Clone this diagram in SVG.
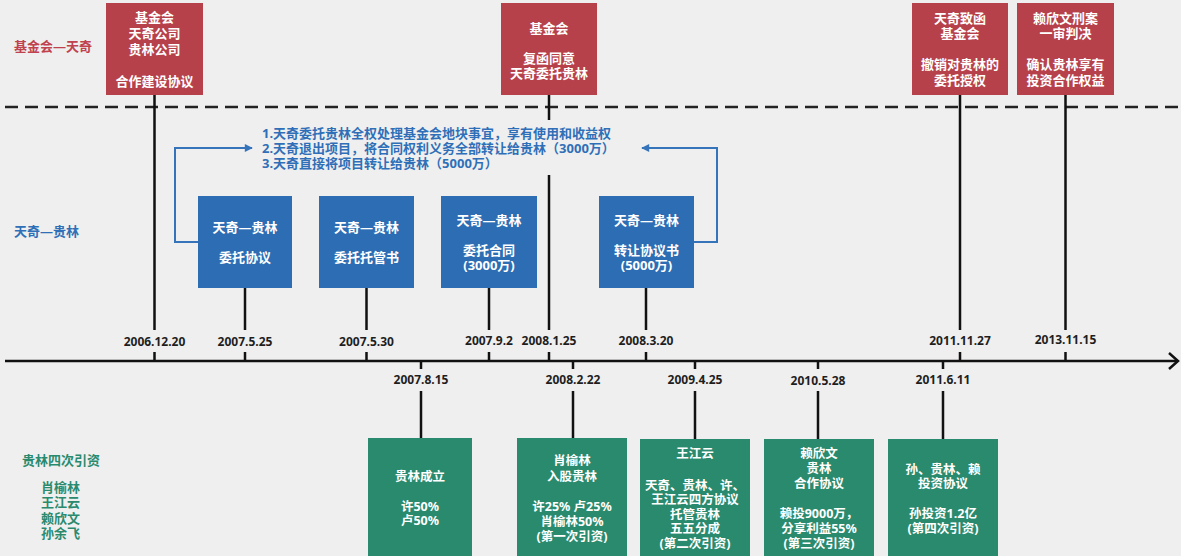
<svg xmlns="http://www.w3.org/2000/svg" width="1181" height="556" viewBox="0 0 1181 556">
<defs>
<style>
.t{font-family:"Noto Sans","Noto Sans CJK SC",sans-serif;font-weight:700;text-anchor:middle}
.w{fill:#ffffff;font-size:13px}
.g{fill:#ffffff;font-size:12.5px}
.d{fill:#1e1e1e;font-size:12px}
.red{fill:#b7414b}
.blue{fill:#2c6db3}
.green{fill:#2a8a6e}
.ln{stroke:#111;stroke-width:2.5;fill:none}
.bl{stroke:#3573ba;stroke-width:2;fill:none}
</style>
<marker id="ah" viewBox="0 0 10 10" refX="9" refY="5" markerWidth="9" markerHeight="8" markerUnits="userSpaceOnUse" orient="auto">
<path d="M0,0 L10,5 L0,10 Z" fill="#3573ba"/>
</marker>
</defs>
<rect x="0" y="0" width="1181" height="556" fill="#efefef"/>

<g id="lane-labels" class="t" style="text-anchor:start;font-size:13px">
<text x="14" y="50.5" fill="#c0424e">基金会—天奇</text>
<text x="14" y="235.5" fill="#2f6fb8">天奇—贵林</text>
<text x="22" y="464.5" fill="#2a8a6e">贵林四次引资</text>
<text x="41" y="491.5" fill="#2a8a6e">肖榆林</text>
<text x="41" y="507" fill="#2a8a6e">王江云</text>
<text x="41" y="522.5" fill="#2a8a6e">赖欣文</text>
<text x="41" y="538" fill="#2a8a6e">孙余飞</text>
</g>

<g id="connectors">
<line x1="5" y1="107" x2="1181" y2="107" stroke="#222" stroke-width="2.5" stroke-dasharray="13 7"/>
<line class="ln" x1="5" y1="361" x2="1178" y2="361"/>
<path class="ln" d="M1169,353 L1178,361 L1169,369"/>
<path class="ln" d="M154.5,95 V330 M154.5,352 V361"/>
<path class="ln" d="M245,288 V330 M245,352 V361"/>
<path class="ln" d="M366.5,288 V330 M366.5,352 V361"/>
<path class="ln" d="M489,288 V330 M489,352 V361"/>
<path class="ln" d="M549,95 V120 M549,175 V330 M549,352 V361"/>
<path class="ln" d="M646,288 V330 M646,352 V361"/>
<path class="ln" d="M960,95 V330 M960,352 V361"/>
<path class="ln" d="M1065.5,95 V330 M1065.5,352 V361"/>
<path class="ln" d="M421,361 V369 M421,391 V438"/>
<path class="ln" d="M573,361 V369 M573,391 V438"/>
<path class="ln" d="M695,361 V369 M695,391 V439"/>
<path class="ln" d="M818,361 V369 M818,391 V439"/>
<path class="ln" d="M943,361 V369 M943,391 V439"/>
<path class="bl" d="M198,242 H175 V148 H252" marker-end="url(#ah)"/>
<path class="bl" d="M694,242 H717 V148 H642" marker-end="url(#ah)"/>
</g>

<g id="dates" class="t d">
<text x="154.5" y="346">2006.12.20</text>
<text x="245" y="346">2007.5.25</text>
<text x="366.5" y="346">2007.5.30</text>
<text x="489" y="345">2007.9.2</text>
<text x="549" y="345">2008.1.25</text>
<text x="646" y="345">2008.3.20</text>
<text x="960" y="345">2011.11.27</text>
<text x="1065.5" y="344">2013.11.15</text>
<text x="421" y="384">2007.8.15</text>
<text x="573" y="384">2008.2.22</text>
<text x="695" y="384">2009.4.25</text>
<text x="818" y="385">2010.5.28</text>
<text x="943" y="384">2011.6.11</text>
</g>

<g id="note" class="t" style="text-anchor:start;font-size:13px" fill="#2f6fb8">
<text x="262" y="137.5">1.天奇委托贵林全权处理基金会地块事宜，享有使用和收益权</text>
<text x="262" y="152.5">2.天奇退出项目，将合同权利义务全部转让给贵林（3000万）</text>
<text x="262" y="167.5">3.天奇直接将项目转让给贵林（5000万）</text>
</g>

<g id="r1">
<rect class="red" x="106" y="3" width="97" height="92"/>
<text class="t w" x="154.5" y="21.5">基金会</text>
<text class="t w" x="154.5" y="37.5">天奇公司</text>
<text class="t w" x="154.5" y="53.5">贵林公司</text>
<text class="t w" x="154.5" y="85.5">合作建设协议</text>
</g>
<g id="r2">
<rect class="red" x="501" y="3" width="96" height="92"/>
<text class="t w" x="549" y="32.5">基金会</text>
<text class="t w" x="549" y="62.5">复函同意</text>
<text class="t w" x="549" y="77.5">天奇委托贵林</text>
</g>
<g id="r3">
<rect class="red" x="912" y="3" width="96" height="92"/>
<text class="t w" x="960" y="22.5">天奇致函</text>
<text class="t w" x="960" y="38">基金会</text>
<text class="t w" x="960" y="69">撤销对贵林的</text>
<text class="t w" x="960" y="84.5">委托授权</text>
</g>
<g id="r4">
<rect class="red" x="1017" y="3" width="97" height="92"/>
<text class="t w" x="1065.5" y="22.5">赖欣文刑案</text>
<text class="t w" x="1065.5" y="38">一审判决</text>
<text class="t w" x="1065.5" y="69">确认贵林享有</text>
<text class="t w" x="1065.5" y="84.5">投资合作权益</text>
</g>

<g id="b1">
<rect class="blue" x="198" y="196" width="94" height="92"/>
<text class="t w" x="245" y="231.5">天奇—贵林</text>
<text class="t w" x="245" y="261.5">委托协议</text>
</g>
<g id="b2">
<rect class="blue" x="319" y="196" width="95" height="92"/>
<text class="t w" x="366.5" y="231.5">天奇—贵林</text>
<text class="t w" x="366.5" y="261.5">委托托管书</text>
</g>
<g id="b3">
<rect class="blue" x="441" y="196" width="96" height="92"/>
<text class="t w" x="489" y="224.5">天奇—贵林</text>
<text class="t w" x="489" y="254.5">委托合同</text>
<text class="t w" x="489" y="269.5">(3000万)</text>
</g>
<g id="b4">
<rect class="blue" x="599" y="196" width="95" height="92"/>
<text class="t w" x="646.5" y="224.5">天奇—贵林</text>
<text class="t w" x="646.5" y="254.5">转让协议书</text>
<text class="t w" x="646.5" y="269.5">(5000万)</text>
</g>

<g id="g1">
<rect class="green" x="368" y="438" width="104" height="130"/>
<text class="t g" x="420" y="480.5">贵林成立</text>
<text class="t g" x="420" y="510.5">许50%</text>
<text class="t g" x="420" y="524.5">卢50%</text>
</g>
<g id="g2">
<rect class="green" x="517" y="438" width="110" height="130"/>
<text class="t g" x="572" y="464.5">肖榆林</text>
<text class="t g" x="572" y="480.5">入股贵林</text>
<text class="t g" x="572" y="510.5">许25% 卢25%</text>
<text class="t g" x="572" y="525.5">肖榆林50%</text>
<text class="t g" x="572" y="540.5">(第一次引资)</text>
</g>
<g id="g3">
<rect class="green" x="640" y="439" width="110" height="130"/>
<text class="t g" x="695" y="457.5">王江云</text>
<text class="t g" x="695" y="489.5">天奇、贵林、许、</text>
<text class="t g" x="695" y="504">王江云四方协议</text>
<text class="t g" x="695" y="518.5">托管贵林</text>
<text class="t g" x="695" y="533">五五分成</text>
<text class="t g" x="695" y="547.5">(第二次引资)</text>
</g>
<g id="g4">
<rect class="green" x="764" y="439" width="110" height="130"/>
<text class="t g" x="819" y="457.5">赖欣文</text>
<text class="t g" x="819" y="472.5">贵林</text>
<text class="t g" x="819" y="487.5">合作协议</text>
<text class="t g" x="819" y="517.5">赖投9000万，</text>
<text class="t g" x="819" y="532.5">分享利益55%</text>
<text class="t g" x="819" y="547.5">(第三次引资)</text>
</g>
<g id="g5">
<rect class="green" x="888" y="439" width="110" height="130"/>
<text class="t g" x="943" y="473.5">孙、贵林、赖</text>
<text class="t g" x="943" y="487.5">投资协议</text>
<text class="t g" x="943" y="517.5">孙投资1.2亿</text>
<text class="t g" x="943" y="532.5">(第四次引资)</text>
</g>
</svg>
